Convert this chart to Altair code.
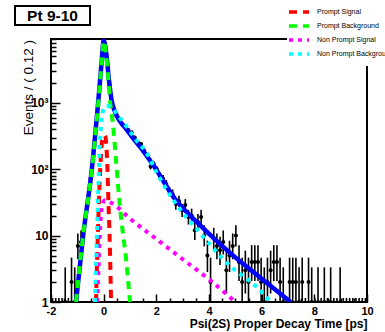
import altair as alt
import pandas as pd
import numpy as np

# ---------------- data ----------------
BIN_LO = -2.0
BIN_W = 0.12
counts = [0, 0, 0, 0, 1, 0, 2, 1, 7, 8,
          13, 28, 72, 190, 640, 2050, 8100, 5200, 1900, 900,
          690, 560, 470, 440, 390, 360, 300, 255, 240, 190,
          160, 110, 120, 100, 78, 72, 60, 46, 42, 30,
          33, 24, 29, 19, 20, 12, 16, 19, 10, 5,
          2, 9, 7, 6, 8, 3, 5, 7, 10, 4,
          2, 3, 2, 4, 4, 4, 2, 1, 2, 3,
          4, 4, 2, 1, 0, 2, 2, 2, 1, 2,
          0, 2, 1, 0, 1, 0, 1, 0, 1, 0,
          0, 1, 0, 0, 0, 0, 0, 0, 0, 0]

total_x = [-1.05, -0.78, -0.45, -0.21, -0.08, 0.0, 0.1, 0.2, 0.3, 0.45, 0.6, 0.8, 1.1, 1.45, 1.95, 2.7, 3.65, 4.8, 5.6, 6.3, 7.1]
total_y = [1.0, 10, 100, 1000, 4000, 8800, 5500, 2200, 1100, 700, 540, 430, 300, 200, 105, 36, 14.5, 5.5, 3.0, 1.8, 1.0]

psig_x = [-0.29, -0.26, -0.23, -0.19, -0.13, -0.05, 0.05, 0.13, 0.19, 0.24, 0.28]
psig_y = [1.0, 3, 8, 25, 100, 280, 320, 140, 25, 6, 1.0]

pbkg_x = [-1.05, -0.78, -0.45, -0.21, -0.08, 0.0, 0.1, 0.17, 0.25, 0.36, 0.45, 0.55, 0.68, 0.85, 1.0]
pbkg_y = [1.0, 10, 95, 950, 3800, 8500, 5000, 2500, 1000, 450, 170, 55, 16, 4.5, 1.0]

npsig_x = [-0.25, -0.2, -0.15, -0.08, 0.05, 0.3, 1.0, 2.0, 3.0, 4.0, 5.0]
npsig_y = [1.0, 3, 10, 25, 34, 31, 18, 8.9, 4.4, 2.2, 1.0]

npbkg_x = [-0.33, -0.28, -0.22, -0.14, -0.05, 0.1, 0.3, 0.5, 0.9, 1.25, 1.65, 2.06, 2.7, 3.66, 4.8, 5.8, 6.35]
npbkg_y = [1.0, 5, 30, 250, 700, 900, 850, 680, 420, 270, 170, 82, 32, 11, 3.5, 1.7, 1.0]

series_names = ["Prompt Signal", "Prompt Background", "Non Prompt Signal", "Non Prompt Background"]
series_colors = ["#ff0000", "#00ff00", "#ff00ff", "#00ffff"]
series_dash = [[8, 6], [8, 6], [4, 5], [4, 5]]

y_major = [1, 10, 100, 1000]
y_minor = [2, 3, 4, 5, 6, 7, 8, 9, 20, 30, 40, 50, 60, 70, 80, 90,
           200, 300, 400, 500, 600, 700, 800, 900, 2000, 3000, 4000, 5000, 6000, 7000, 8000, 9000]
x_major = [-2, 0, 2, 4, 6, 8, 10]
x_minor = [-1.5, -1, -0.5, 0.5, 1, 1.5, 2.5, 3, 3.5, 4.5, 5, 5.5, 6.5, 7, 7.5, 8.5, 9, 9.5]

title_text = "Pt 9-10"
y_title = "Events / ( 0.12 )"
x_title = "Psi(2S) Proper Decay Time [ps]"

# ---------------- tables ----------------
n = np.array(counts, dtype=float)
centers = BIN_LO + BIN_W * (np.arange(len(counts)) + 0.5)
lo = np.where(n > 0, n - np.sqrt(np.clip(n - 0.25, 0, None)), 0.5)
hi = np.where(n > 0, n + 1 + np.sqrt(n + 0.75), 1.15)
hist = pd.DataFrame({"x": centers, "n": n, "lo": lo, "hi": hi,
                     "xl": centers - BIN_W / 2, "xr": centers + BIN_W / 2})
pts = hist[hist.n > 0]

rows = []
for name, xs_, ys_ in [("Total", total_x, total_y),
                       ("Prompt Signal", psig_x, psig_y),
                       ("Prompt Background", pbkg_x, pbkg_y),
                       ("Non Prompt Signal", npsig_x, npsig_y),
                       ("Non Prompt Background", npbkg_x, npbkg_y)]:
    for a, b in zip(xs_, ys_):
        rows.append({"series": name, "x": a, "y": b})
curves = pd.DataFrame(rows)

# ---------------- scales / axes ----------------
W, H = 316, 263
FONT = "Liberation Sans"
xs = alt.Scale(domain=[-2, 10], nice=False, zero=False)
ys = alt.Scale(type="log", domain=[1, 9140], nice=False)

x_lab = alt.Axis(orient="bottom", values=x_major, ticks=False, tickSize=0, domain=False, grid=False,
                 labelExpr="datum.value < 0 ? '-' + abs(datum.value) : '' + datum.value",
                 labelFlush=False, labelOverlap=False, labelFont=FONT, labelFontWeight="bold",
                 labelFontSize=11, labelPadding=3, labelColor="black",
                 title=x_title, titleFont=FONT, titleFontSize=12,
                 titleFontWeight="bold", titleColor="black", titleX=W, titleY=25,
                 titleAlign="right", titleBaseline="alphabetic", titleAnchor="end")
y_lab = alt.Axis(orient="left", values=y_major, ticks=False, tickSize=0, domain=False, grid=False,
                 labelExpr="datum.value == 1 ? '1' : datum.value == 10 ? '10' : datum.value == 100 ? '10²' : '10³'",
                 labelOverlap=False, labelFont=FONT, labelFontWeight="bold", labelFontSize=12,
                 labelPadding=3, labelColor="black", labelBaseline="middle", title=None)
x_maj = alt.Axis(orient="top", offset=-H, values=x_major, labels=False, domain=False, grid=False,
                 tickSize=8, tickWidth=1.5, tickColor="black", title=None)
y_maj = alt.Axis(orient="right", offset=-W, values=y_major, labels=False, domain=False, grid=False,
                 tickSize=9, tickWidth=1.5, tickColor="black", title=None)
x_min = alt.Axis(orient="top", offset=-H, values=x_minor, labels=False, domain=False, grid=False,
                 tickSize=4, tickWidth=1.5, tickColor="black", title=None)
y_min = alt.Axis(orient="right", offset=-W, values=y_minor, labels=False, domain=False, grid=False,
                 tickSize=5, tickWidth=1.5, tickColor="black", title=None)

# ---------------- layers ----------------
vbars = alt.Chart(hist).mark_rule(color="black", strokeWidth=1.6, clip=True).encode(
    x=alt.X("x:Q", scale=xs, axis=x_lab),
    y=alt.Y("lo:Q", scale=ys, axis=y_lab),
    y2="hi:Q")
hbars = alt.Chart(pts).mark_rule(color="black", strokeWidth=1.6, clip=True).encode(
    x=alt.X("xl:Q", scale=xs, axis=x_maj),
    x2="xr:Q",
    y=alt.Y("n:Q", scale=ys, axis=y_maj))
markers = alt.Chart(pts).mark_circle(color="black", size=16, opacity=1, clip=True).encode(
    x=alt.X("x:Q", scale=xs, axis=x_min),
    y=alt.Y("n:Q", scale=ys, axis=y_min))

total = alt.Chart(curves).transform_filter(alt.datum.series == "Total").mark_line(
    color="#0000ff", strokeWidth=4.5, clip=True, interpolate="monotone").encode(
    x=alt.X("x:Q", scale=xs, axis=None),
    y=alt.Y("y:Q", scale=ys, axis=None),
    order="x:Q")

leg = alt.Legend(orient="none", legendX=236, legendY=-39, title=None,
                 symbolType="M-2,0H2", symbolStrokeWidth=3.5, symbolSize=100,
                 labelFont=FONT, labelFontSize=7, labelColor="black", fillColor="white",
                 padding=5, rowPadding=0, labelOffset=11, zindex=2, labelLimit=200)
comp_layers = []
for s in series_names:
    comp_layers.append(
        alt.Chart(curves).transform_filter(alt.datum.series == s).mark_line(
            strokeWidth=4, clip=True, interpolate="monotone").encode(
            x=alt.X("x:Q", scale=xs, axis=None),
            y=alt.Y("y:Q", scale=ys, axis=None),
            order="x:Q",
            color=alt.Color("series:N", scale=alt.Scale(domain=series_names, range=series_colors), legend=leg),
            strokeDash=alt.StrokeDash("series:N", scale=alt.Scale(domain=series_names, range=series_dash), legend=leg)))

label_df = pd.DataFrame({"label": [title_text], "ytitle": [y_title]})
box = alt.Chart(label_df).mark_rect(fill="white", stroke="black", strokeWidth=2).encode(
    x=alt.value(-36), x2=alt.value(39), y=alt.value(-33), y2=alt.value(-14))
boxtext = alt.Chart(label_df).mark_text(font=FONT, fontSize=15.5, fontWeight="bold", color="black",
                                        align="center", baseline="middle").encode(
    text="label:N", x=alt.value(1.5), y=alt.value(-23))
ytitle = alt.Chart(label_df).mark_text(font=FONT, fontSize=13.5, color="black", angle=270,
                                       align="right", baseline="middle").encode(
    text="ytitle:N", x=alt.value(-22), y=alt.value(1))

chart = alt.layer(vbars, hbars, markers, total, *comp_layers, box, boxtext, ytitle).resolve_axis(
    x="independent", y="independent").properties(
    width=W, height=H,
    background="white",
    autosize=alt.AutoSizeParams(type="none"),
    padding={"left": 51, "top": 39, "right": 18, "bottom": 30},
).configure_view(stroke="black", strokeWidth=2)

chart.save("out.html", embed_options={"renderer": "svg", "actions": False})
